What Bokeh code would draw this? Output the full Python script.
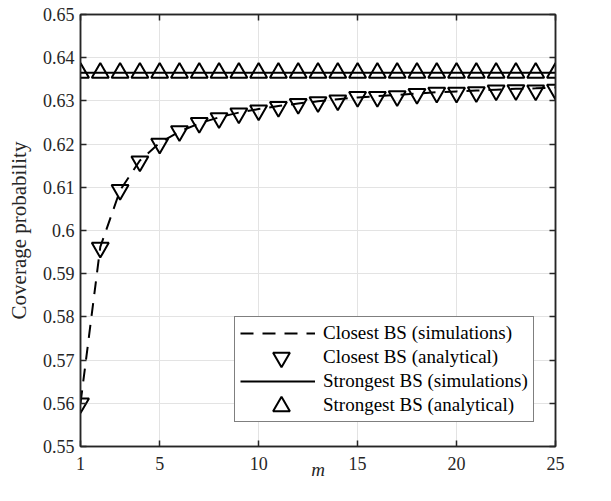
from bokeh.plotting import figure
from bokeh.models import Legend, LegendItem, LinearAxis, FixedTicker, Range1d, ColumnDataSource
from bokeh.embed import file_html
from bokeh.resources import INLINE

# ---- data ----
m_values = [1, 2, 3, 4, 5, 6, 7, 8, 9, 10, 11, 12, 13, 14, 15, 16, 17, 18, 19, 20, 21, 22, 23, 24, 25]
closest_sim = [0.5600, 0.5962, 0.6093, 0.6162, 0.6203, 0.6229, 0.6248, 0.6262, 0.6273, 0.6281,
               0.6288, 0.6294, 0.6299, 0.6304, 0.6308, 0.6311, 0.6314, 0.6317, 0.6320, 0.6322,
               0.6324, 0.6326, 0.6328, 0.6329, 0.6331]
closest_ana = [0.5600, 0.5960, 0.6094, 0.6160, 0.6201, 0.6230, 0.6249, 0.6260, 0.6271, 0.6278,
               0.6286, 0.6293, 0.6297, 0.6301, 0.6309, 0.6309, 0.6311, 0.6316, 0.6319, 0.6319,
               0.6320, 0.6324, 0.6325, 0.6324, 0.6326]
strongest_sim = [0.6365, 0.6365, 0.6365, 0.6365, 0.6365, 0.6365, 0.6365, 0.6365, 0.6365, 0.6365,
                 0.6365, 0.6365, 0.6365, 0.6365, 0.6365, 0.6365, 0.6365, 0.6365, 0.6365, 0.6365,
                 0.6365, 0.6365, 0.6365, 0.6365, 0.6365]
strongest_ana = [0.6365, 0.6365, 0.6365, 0.6365, 0.6365, 0.6365, 0.6365, 0.6365, 0.6365, 0.6365,
                 0.6365, 0.6365, 0.6365, 0.6365, 0.6365, 0.6365, 0.6365, 0.6365, 0.6365, 0.6365,
                 0.6365, 0.6365, 0.6365, 0.6365, 0.6365]

x_ticks = [1, 5, 10, 15, 20, 25]
y_ticks = [0.55, 0.56, 0.57, 0.58, 0.59, 0.6, 0.61, 0.62, 0.63, 0.64, 0.65]
y_tick_labels = ["0.55", "0.56", "0.57", "0.58", "0.59", "0.6", "0.61", "0.62", "0.63", "0.64", "0.65"]

series_labels = ["Closest BS (simulations)", "Closest BS (analytical)",
                 "Strongest BS (simulations)", "Strongest BS (analytical)"]
x_label = "m"
y_label = "Coverage probability"

source = ColumnDataSource(dict(m=m_values, closest_sim=closest_sim, closest_ana=closest_ana,
                               strongest_sim=strongest_sim, strongest_ana=strongest_ana))

FONT = "Liberation Serif"
AX = "#262626"

p = figure(width=595, height=485, x_range=Range1d(1, 25), y_range=Range1d(0.55, 0.65),
           output_backend="svg", toolbar_location=None,
           min_border_left=80, min_border_right=40, min_border_top=14, min_border_bottom=39)
p.background_fill_color = "white"
p.border_fill_color = "white"
p.outline_line_color = AX
p.outline_line_width = 1.5

xt = FixedTicker(ticks=x_ticks)
yt = FixedTicker(ticks=y_ticks)

def style_axis(ax, ticker):
    ax.ticker = ticker
    ax.axis_line_color = AX
    ax.axis_line_width = 1.5
    ax.major_tick_line_color = AX
    ax.major_tick_line_width = 1.5
    ax.major_tick_in = 6
    ax.major_tick_out = 0
    ax.minor_tick_line_color = None
    ax.major_label_text_font = FONT
    ax.major_label_text_color = AX
    ax.major_label_text_font_size = "18px"

xa = p.xaxis[0]
ya = p.yaxis[0]
style_axis(xa, xt)
style_axis(ya, yt)
ya.major_label_overrides = {v: s for v, s in zip(y_ticks, y_tick_labels)}
xa.major_label_standoff = 10
ya.major_label_standoff = 6
xa.axis_label = x_label
xa.axis_label_text_font = FONT
xa.axis_label_text_font_style = "italic"
xa.axis_label_text_font_size = "19px"
xa.axis_label_text_color = AX
xa.axis_label_standoff = -14
ya.axis_label = y_label
ya.axis_label_text_font = FONT
ya.axis_label_text_font_style = "normal"
ya.axis_label_text_font_size = "21px"
ya.axis_label_text_color = AX
ya.axis_label_standoff = 9

top = LinearAxis()
style_axis(top, xt)
top.major_label_overrides = {v: "" for v in x_ticks}
top.major_label_standoff = 0
right = LinearAxis()
style_axis(right, yt)
right.major_label_overrides = {v: "" for v in y_ticks}
right.major_label_standoff = 0
p.add_layout(top, "above")
p.add_layout(right, "right")

p.xgrid.ticker = xt
p.ygrid.ticker = yt
p.grid.grid_line_color = "#e3e3e3"
p.grid.grid_line_width = 1

r_cs = p.line("m", "closest_sim", source=source, line_color="black", line_width=2, line_dash="13 9")
r_ca = p.scatter("m", "closest_ana", source=source, marker="inverted_triangle", size=17,
                 fill_color=None, line_color="black", line_width=2)
r_ss = p.line("m", "strongest_sim", source=source, line_color="black", line_width=2)
r_sa = p.scatter("m", "strongest_ana", source=source, marker="triangle", size=17,
                 fill_color=None, line_color="black", line_width=2)

# main legend: box, line samples and all four labels
legend = Legend(items=[LegendItem(label=series_labels[0], renderers=[r_cs]),
                       LegendItem(label=series_labels[1], renderers=[]),
                       LegendItem(label=series_labels[2], renderers=[r_ss]),
                       LegendItem(label=series_labels[3], renderers=[])],
                location=(154, 24))
legend.label_text_font = FONT
legend.label_text_font_size = "19px"
legend.label_text_color = "black"
legend.border_line_color = "black"
legend.border_line_width = 1.5
legend.background_fill_color = "white"
legend.background_fill_alpha = 1
legend.padding = 5
legend.spacing = 2
legend.margin = 0
legend.glyph_width = 75
legend.glyph_height = 18
legend.label_height = 18
legend.label_standoff = 8
p.add_layout(legend, "center")

# overlay legend for the (larger) marker samples
mlegend = Legend(items=[LegendItem(label=" ", renderers=[r_ca]),
                        LegendItem(label=" ", renderers=[r_sa])],
                 location=(180, 19))
mlegend.border_line_color = None
mlegend.background_fill_color = None
mlegend.background_fill_alpha = 0
mlegend.padding = 0
mlegend.margin = 0
mlegend.spacing = 7
mlegend.glyph_width = 42
mlegend.glyph_height = 42
mlegend.label_height = 10
mlegend.label_width = 0
mlegend.label_standoff = 0
mlegend.label_text_font_size = "8px"
p.add_layout(mlegend, "center")

open("out.html", "w").write(file_html(p, INLINE))
